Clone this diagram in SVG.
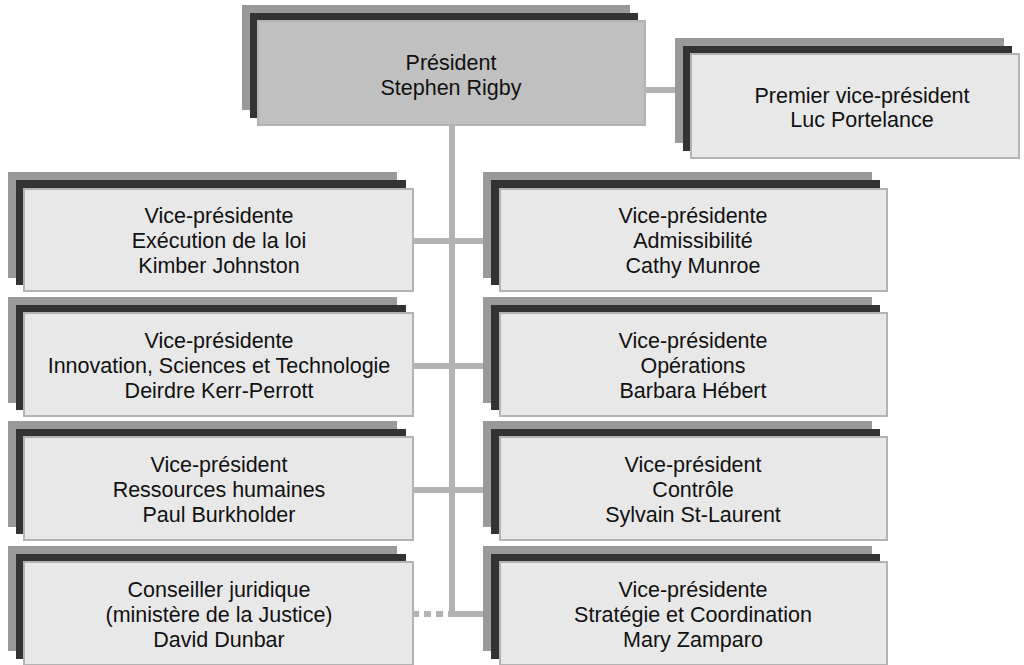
<svg xmlns="http://www.w3.org/2000/svg" width="1024" height="665" viewBox="0 0 1024 665">
<style>
.l{fill:#999999}
.d{fill:#333333}
.f{fill:#e8e8e8;stroke:#b3b3b3;stroke-width:2}
.p{fill:#c0c0c0;stroke:#b3b3b3;stroke-width:2}
.c{stroke:#b3b3b3;stroke-width:6;fill:none}
.t{font-family:"Liberation Sans",Arial,sans-serif;font-size:21.5px;text-anchor:middle;fill:#111111}
</style>
<rect width="1024" height="665" fill="#ffffff"/>
<g id="connectors">
<line class="c" x1="646" y1="90" x2="675" y2="90"/>
<line class="c" x1="452" y1="126" x2="452" y2="617"/>
<line class="c" x1="414" y1="241" x2="483" y2="241"/>
<line class="c" x1="414" y1="366" x2="483" y2="366"/>
<line class="c" x1="414" y1="490" x2="483" y2="490"/>
<line class="c" x1="449" y1="614" x2="483" y2="614"/>
<line class="c" x1="412" y1="614" x2="449" y2="614" stroke-dasharray="7,5"/>
</g>
<g id="president">
<rect class="l" x="242" y="5" width="388" height="105"/>
<rect class="d" x="250" y="13" width="388" height="105"/>
<rect class="p" x="258" y="21" width="387" height="104"/>
<text class="t" x="451" y="70">Président</text>
<text class="t" x="451" y="95">Stephen Rigby</text>
</g>
<g id="premier-vp">
<rect class="l" x="675" y="38" width="329" height="105"/>
<rect class="d" x="683" y="46" width="329" height="105"/>
<rect class="f" x="691" y="54" width="328" height="104"/>
<text class="t" x="862" y="103">Premier vice-président</text>
<text class="t" x="862" y="127">Luc Portelance</text>
</g>
<g id="vp-execution">
<rect class="l" x="8" y="172" width="389" height="106"/>
<rect class="d" x="16" y="180" width="390" height="105"/>
<rect class="f" x="24" y="189" width="389" height="102"/>
<text class="t" x="219" y="223">Vice-présidente</text>
<text class="t" x="219" y="248">Exécution de la loi</text>
<text class="t" x="219" y="273">Kimber Johnston</text>
</g>
<g id="vp-admissibilite">
<rect class="l" x="483" y="172" width="389" height="106"/>
<rect class="d" x="491" y="180" width="389" height="105"/>
<rect class="f" x="500" y="189" width="387" height="102"/>
<text class="t" x="693" y="223">Vice-présidente</text>
<text class="t" x="693" y="248">Admissibilité</text>
<text class="t" x="693" y="273">Cathy Munroe</text>
</g>
<g id="vp-innovation">
<rect class="l" x="8" y="297" width="389" height="106"/>
<rect class="d" x="16" y="305" width="390" height="105"/>
<rect class="f" x="24" y="313" width="389" height="103"/>
<text class="t" x="219" y="348">Vice-présidente</text>
<text class="t" x="219" y="373">Innovation, Sciences et Technologie</text>
<text class="t" x="219" y="398">Deirdre Kerr-Perrott</text>
</g>
<g id="vp-operations">
<rect class="l" x="483" y="297" width="389" height="106"/>
<rect class="d" x="491" y="305" width="389" height="105"/>
<rect class="f" x="500" y="313" width="387" height="103"/>
<text class="t" x="693" y="348">Vice-présidente</text>
<text class="t" x="693" y="373">Opérations</text>
<text class="t" x="693" y="398">Barbara Hébert</text>
</g>
<g id="vp-rh">
<rect class="l" x="8" y="421" width="389" height="106"/>
<rect class="d" x="16" y="429" width="390" height="105"/>
<rect class="f" x="24" y="437" width="389" height="103"/>
<text class="t" x="219" y="472">Vice-président</text>
<text class="t" x="219" y="497">Ressources humaines</text>
<text class="t" x="219" y="522">Paul Burkholder</text>
</g>
<g id="vp-controle">
<rect class="l" x="483" y="421" width="389" height="106"/>
<rect class="d" x="491" y="429" width="389" height="105"/>
<rect class="f" x="500" y="437" width="387" height="103"/>
<text class="t" x="693" y="472">Vice-président</text>
<text class="t" x="693" y="497">Contrôle</text>
<text class="t" x="693" y="522">Sylvain St-Laurent</text>
</g>
<g id="conseiller-juridique">
<rect class="l" x="8" y="546" width="389" height="105"/>
<rect class="d" x="16" y="554" width="390" height="105"/>
<rect class="f" x="24" y="562" width="389" height="103"/>
<text class="t" x="219" y="597">Conseiller juridique</text>
<text class="t" x="219" y="622">(ministère de la Justice)</text>
<text class="t" x="219" y="647">David Dunbar</text>
</g>
<g id="vp-strategie">
<rect class="l" x="483" y="546" width="389" height="105"/>
<rect class="d" x="491" y="554" width="389" height="105"/>
<rect class="f" x="500" y="562" width="387" height="103"/>
<text class="t" x="693" y="597">Vice-présidente</text>
<text class="t" x="693" y="622">Stratégie et Coordination</text>
<text class="t" x="693" y="647">Mary Zamparo</text>
</g>
</svg>
